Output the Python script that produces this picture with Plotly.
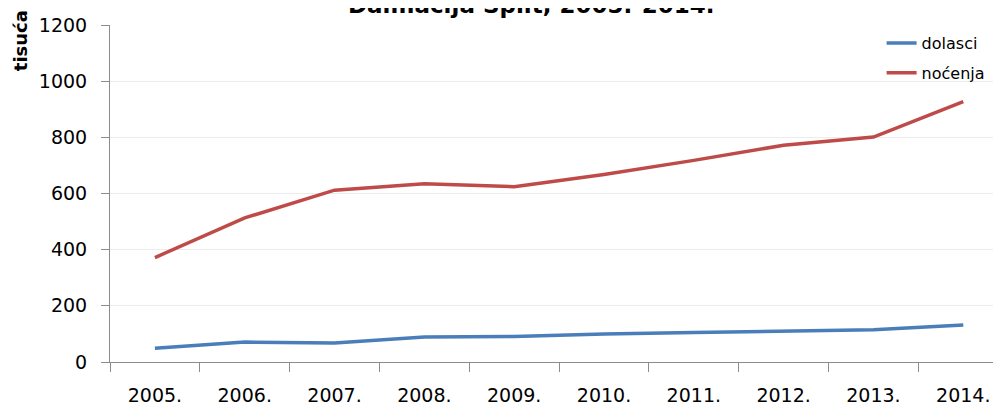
import plotly.graph_objects as go

years = ["2005.", "2006.", "2007.", "2008.", "2009.", "2010.", "2011.", "2012.", "2013.", "2014."]
dolasci = [49, 71, 68, 89, 91, 100, 105, 110, 115, 132]
nocenja = [372, 513, 612, 635, 624, 668, 718, 772, 801, 927]
y_ticks = [0, 200, 400, 600, 800, 1000, 1200]

title_text = "Dalmacija Split, 2005.-2014."
y_title = "tisuća"

FONT = "DejaVu Sans"

fig = go.Figure()
fig.add_trace(go.Scatter(x=years, y=dolasci, mode="lines", name="dolasci",
                         legendgroup="a",
                         line=dict(color="#4a7ebb", width=3.5)))
fig.add_trace(go.Scatter(x=years, y=nocenja, mode="lines", name="noćenja",
                         legendgroup="b",
                         line=dict(color="#be4b48", width=3.5)))

fig.update_layout(
    width=1001, height=414,
    margin=dict(l=102, r=8, t=17, b=60),
    paper_bgcolor="white", plot_bgcolor="white",
    font=dict(family=FONT, color="#000000"),
    showlegend=True,
    legend=dict(x=0.866, y=0.997, xanchor="left", yanchor="top",
                font=dict(size=16, family=FONT, color="#000"),
                bgcolor="rgba(0,0,0,0)", traceorder="grouped",
                tracegroupgap=6),
    xaxis=dict(type="category", range=[-0.5, 9.42], tickson="boundaries",
               ticks="outside", ticklen=9, tickcolor="#8c8c8c", tickwidth=1,
               showline=True, linecolor="#8c8c8c", linewidth=1,
               showgrid=False, automargin=False, ticklabelstandoff=16,
               tickfont=dict(size=19, family=FONT)),
    yaxis=dict(range=[0, 1200], tickvals=y_ticks, ticks="outside",
               ticklen=8, tickcolor="#8c8c8c", showline=True,
               linecolor="#8c8c8c", linewidth=1, showgrid=True,
               gridcolor="#ececec", zeroline=False, automargin=False,
               ticklabelstandoff=10,
               tickfont=dict(size=19, family=FONT)),
    annotations=[
        dict(text="<b>" + title_text + "</b>", xref="paper", yref="paper",
             x=0.473, y=1.015, xanchor="center", yanchor="bottom",
             showarrow=False, font=dict(size=23, family=FONT, color="#000")),
        dict(text="<b>" + y_title + "</b>", xref="paper", yref="paper",
             x=-0.101, y=0.952, xanchor="center", yanchor="middle",
             textangle=-90, showarrow=False,
             font=dict(size=18, family=FONT, color="#000")),
    ],
)

fig.write_html("out.html")
